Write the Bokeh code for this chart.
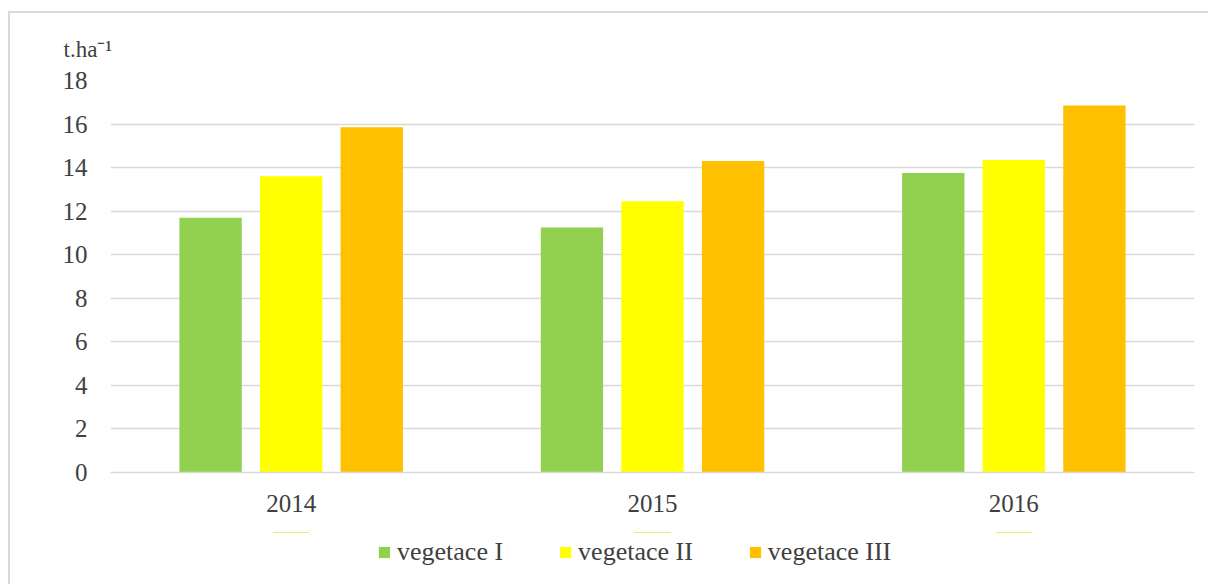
from bokeh.plotting import figure
from bokeh.layouts import column
from bokeh.models import (FactorRange, Range1d, Legend, LegendItem, Title,
                          FixedTicker, ColumnDataSource)
from bokeh.transform import dodge
from bokeh.embed import file_html
from bokeh.resources import INLINE

# ---- data ----
years = ["2014", "2015", "2016"]
veg1 = [11.7, 11.25, 13.75]
veg2 = [13.6, 12.45, 14.35]
veg3 = [15.85, 14.3, 16.85]
series_names = ["vegetace I", "vegetace II", "vegetace III"]
series_colors = ["#92D050", "#FFFF00", "#FFC000"]
y_ticks = [0, 2, 4, 6, 8, 10, 12, 14, 16, 18]
unit_label = "t.ha\u207b\u00b9"

FONT = "Liberation Serif"
TXT = "#404040"
GRID = "#d9d9d9"

source = ColumnDataSource(dict(year=years, v1=veg1, v2=veg2, v3=veg3))

p = figure(x_range=FactorRange(*years, range_padding=0),
           y_range=Range1d(0, 18),
           frame_width=1084, frame_height=392,
           min_border_left=100, min_border_top=67, min_border_right=14,
           min_border_bottom=60,
           output_backend="svg", toolbar_location=None)
p.outline_line_color = None
p.background_fill_color = "white"
p.border_fill_color = "white"

offsets = [-0.223, 0.0, 0.223]
cols = ["v1", "v2", "v3"]
for c, off, col in zip(cols, offsets, series_colors):
    p.vbar(x=dodge("year", off, range=p.x_range), top=c, width=0.1725,
           source=source, fill_color=col, line_color=None)

p.yaxis.ticker = FixedTicker(ticks=y_ticks)
p.yaxis.axis_line_color = None
p.yaxis.major_tick_line_color = None
p.yaxis.minor_tick_line_color = None
p.yaxis.major_label_standoff = 17
p.yaxis.major_label_text_font = FONT
p.yaxis.major_label_text_font_size = "25px"
p.yaxis.major_label_text_color = TXT

p.xaxis.axis_line_color = GRID
p.xaxis.axis_line_width = 1.5
p.xaxis.major_tick_line_color = None
p.xaxis.minor_tick_line_color = None
p.xaxis.major_label_standoff = 16
p.xaxis.major_label_text_font = FONT
p.xaxis.major_label_text_font_size = "25px"
p.xaxis.major_label_text_color = TXT

p.xgrid.grid_line_color = None
p.ygrid.ticker = FixedTicker(ticks=y_ticks)
p.ygrid.grid_line_color = GRID
p.ygrid.grid_line_width = 1.5

p.add_layout(Title(text=unit_label, align="left", offset=-47, standoff=38,
                   text_font=FONT, text_font_size="23px",
                   text_font_style="normal", text_color=TXT), "above")

# ---- legend strip below the chart (its bars lie outside its visible range) ----
p2 = figure(width=1198, height=52,
            x_range=FactorRange(*years, range_padding=0),
            y_range=Range1d(-2, -1),
            x_axis_location=None, y_axis_location=None, min_border=0,
            output_backend="svg", toolbar_location=None)
p2.outline_line_color = None
p2.grid.grid_line_color = None
p2.background_fill_color = "white"
p2.border_fill_color = "white"

leg_renderers = [p2.vbar(x="year", top=c, width=0.1, source=source,
                         fill_color=col, line_color=None)
                 for c, col in zip(cols, series_colors)]

legend = Legend(items=[LegendItem(label=n, renderers=[r])
                       for n, r in zip(series_names, leg_renderers)],
                orientation="horizontal", location=(267, 17))
legend.border_line_color = None
legend.background_fill_alpha = 0
legend.label_text_font = FONT
legend.label_text_font_size = "26px"
legend.label_text_color = TXT
legend.glyph_width = 14
legend.glyph_height = 14
legend.label_standoff = 6
legend.spacing = 55
legend.padding = 0
legend.margin = 0
p2.add_layout(legend, "center")

layout = column(p, p2)
layout.styles = {"border-left": "2px solid #d9d9d9", "border-top": "2px solid #d9d9d9",
                 "margin-top": "11px", "margin-left": "8px"}

open("out.html", "w").write(file_html(layout, INLINE))
